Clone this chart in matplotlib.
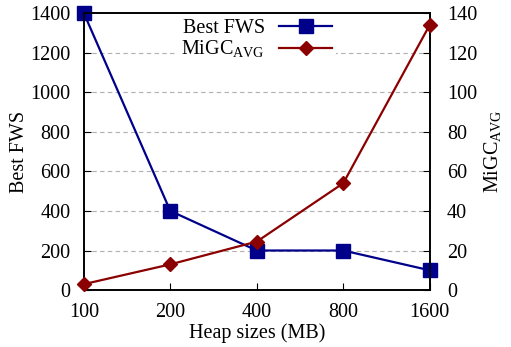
import matplotlib
matplotlib.use('Agg')
import matplotlib.pyplot as plt

plt.rcParams['font.family'] = 'Liberation Serif'
plt.rcParams['mathtext.fontset'] = 'custom'
plt.rcParams['mathtext.rm'] = 'Liberation Serif'

# data
heap_sizes = ['100', '200', '400', '800', '1600']
best_fws = [1400, 400, 200, 200, 100]
migc_avg = [3, 13, 24.5, 54, 134]

x = list(range(len(heap_sizes)))

fig, ax = plt.subplots(figsize=(5.11, 3.47), dpi=100)
fig.subplots_adjust(left=0.164, right=0.841, top=0.9625, bottom=0.164)
ax2 = ax.twinx()

for yv in range(200, 1400, 200):
    ax.axhline(yv, color='#b0b0b0', lw=0.8, ls=(0, (4, 3)), zorder=0)

l1, = ax.plot(x, best_fws, color='#00008b', marker='s', markersize=10.5, lw=1.6,
              clip_on=False, zorder=5, label='Best FWS')
l2, = ax2.plot(x, migc_avg, color='#8b0000', marker='D', markersize=7, lw=1.6,
               clip_on=False, zorder=5, label=r'MiGC$_{\mathrm{AVG}}$')

ax.set_xlim(0, 4)
ax.set_ylim(0, 1400)
ax2.set_ylim(0, 140)
ax.set_xticks(x)
ax.set_xticklabels(heap_sizes)
ax.set_yticks(range(0, 1401, 200))
ax2.set_yticks(range(0, 141, 20))

fs = 14.5
ax.set_xlabel('Heap sizes (MB)', fontsize=fs, labelpad=1)
ax.set_ylabel('Best FWS', fontsize=fs, labelpad=1)
ax2.set_ylabel(r'MiGC$_{\mathrm{AVG}}$', fontsize=fs, labelpad=4)

for a in (ax, ax2):
    a.tick_params(direction='in', labelsize=fs, length=5, width=0.8)
    for s in a.spines.values():
        s.set_linewidth(1.2)
ax.tick_params(axis='x', pad=9)
ax.tick_params(axis='y', pad=9.5)
ax2.tick_params(axis='y', pad=12.5)
ax.tick_params(top=False)

leg = ax2.legend(handles=[l1, l2], loc='upper center', bbox_to_anchor=(0.50, 1.03),
                 frameon=True, fancybox=False, edgecolor='none', framealpha=1,
                 fontsize=fs, markerfirst=False, handlelength=2.65,
                 borderpad=0.2, labelspacing=0.05, handletextpad=0.7)
leg.set_zorder(2.4)

fig.savefig('out.png', dpi=100)
